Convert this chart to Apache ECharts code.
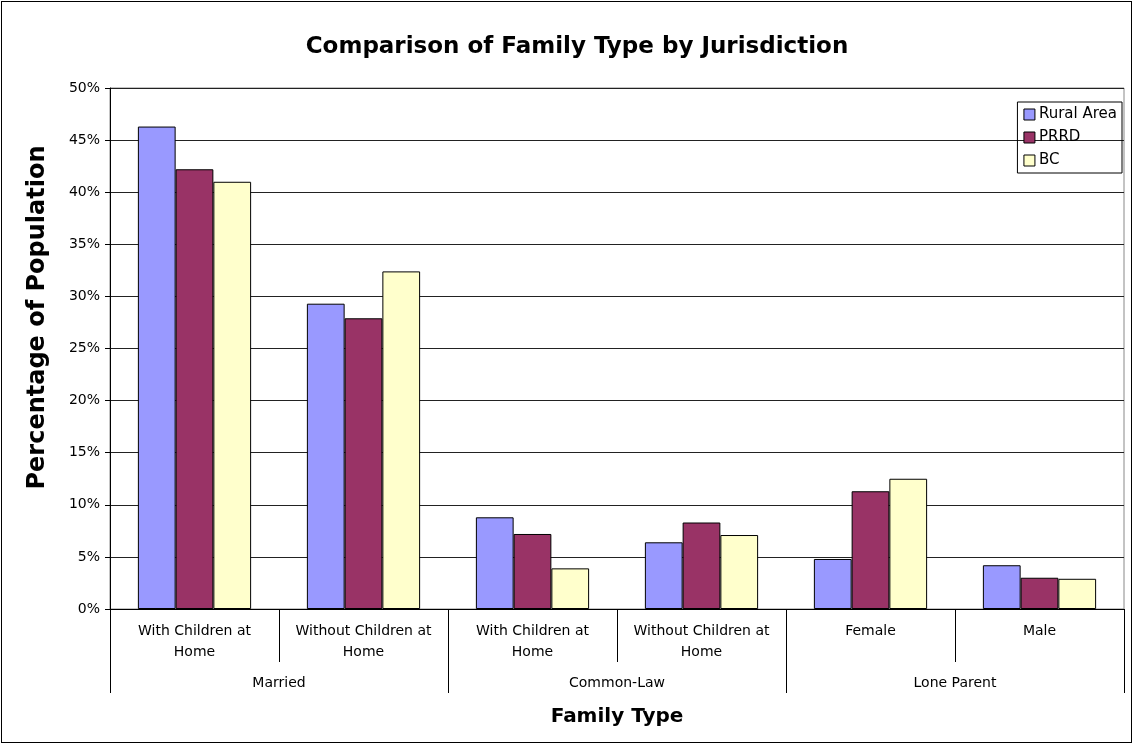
<!DOCTYPE html>
<html>
<head>
<meta charset="utf-8">
<script src="https://cdn.jsdelivr.net/npm/echarts@6/dist/echarts.min.js"></script>
<style>
html,body{margin:0;padding:0;background:#fff;}
#frame{position:absolute;left:1px;top:1px;width:1129px;height:740px;border:1px solid #000;}
#chart{position:absolute;left:0;top:0;width:1133px;height:744px;}
</style>
</head>
<body>
<div id="frame"></div>
<div id="chart"></div>
<script>
const subCategories = ['With Children at\nHome', 'Without Children at\nHome', 'With Children at\nHome', 'Without Children at\nHome', 'Female', 'Male'];
const groupCategories = ['Married', 'Common-Law', 'Lone Parent'];
const seriesNames = ['Rural Area', 'PRRD', 'BC'];
const ruralArea = [46.3, 29.3, 8.8, 6.4, 4.8, 4.2];
const prrd = [42.2, 27.9, 7.2, 8.3, 11.3, 3.0];
const bc = [41.0, 32.4, 3.9, 7.1, 12.5, 2.9];
const colors = ['#9999FF', '#993366', '#FFFFCC'];

const chart = echarts.init(document.getElementById('chart'), null, {renderer: 'canvas'});
const font = '"DejaVu Sans", Arial, sans-serif';
const mkBar = (name, data, color) => ({
  name, type: 'bar', data, xAxisIndex: 0, yAxisIndex: 0,
  barGap: '0%', barCategoryGap: '33%',
  itemStyle: {color, borderColor: '#000', borderWidth: 1},
  emphasis: {disabled: true}, animation: false
});
chart.setOption({
  animation: false,
  backgroundColor: 'transparent',
  title: {
    text: 'Comparison of Family Type by Jurisdiction',
    left: 572, top: 31, textAlign: 'center',
    textStyle: {fontFamily: font, fontSize: 23, fontWeight: 'bold', color: '#000'}
  },
  legend: {
    data: seriesNames, orient: 'vertical', right: 11, top: 102,
    itemWidth: 11, itemHeight: 11, itemGap: 8,
    borderColor: '#000', borderWidth: 1, padding: [5, 5, 5, 6],
    textStyle: {fontFamily: font, fontSize: 15, color: '#000', padding: [0, 0, 0, -1]},
    icon: 'rect', itemStyle: {borderColor: '#000', borderWidth: 1}
  },
  grid: {left: 110, right: 9, top: 88, bottom: 135, show: true, borderColor: '#888', borderWidth: 1},
  xAxis: [
    {
      type: 'category', data: subCategories, position: 'bottom',
      axisLine: {show: true, lineStyle: {color: '#000', width: 1}},
      axisTick: {show: true, interval: 0, length: 53, lineStyle: {color: '#000'}},
      axisLabel: {interval: 0, margin: 12, fontFamily: font, fontSize: 14, lineHeight: 21, color: '#000'}
    },
    {
      type: 'category', data: groupCategories, position: 'bottom',
      axisLine: {show: false},
      axisTick: {show: true, interval: 0, length: 84, lineStyle: {color: '#000'}},
      axisLabel: {interval: 0, margin: 67, fontFamily: font, fontSize: 14, color: '#000'},
      name: 'Family Type', nameLocation: 'middle', nameGap: 98,
      nameTextStyle: {fontFamily: font, fontSize: 20, fontWeight: 'bold', color: '#000'}
    }
  ],
  yAxis: {
    type: 'value', min: 0, max: 50, interval: 5,
    axisLine: {show: true, lineStyle: {color: '#000'}},
    axisTick: {show: true, length: 5, lineStyle: {color: '#000'}},
    axisLabel: {formatter: '{value}%', fontFamily: font, fontSize: 14, color: '#000', margin: 10},
    splitLine: {show: true, lineStyle: {color: '#222', width: 1}},
    name: 'Percentage of Population', nameLocation: 'middle', nameGap: 60,
    nameTextStyle: {fontFamily: font, fontSize: 24, fontWeight: 'bold', color: '#000', padding: [0, 0, 0, 62]}
  },
  series: [
    mkBar(seriesNames[0], ruralArea, colors[0]),
    mkBar(seriesNames[1], prrd, colors[1]),
    mkBar(seriesNames[2], bc, colors[2]),
    {name: 'group', type: 'bar', xAxisIndex: 1, yAxisIndex: 0, data: groupCategories.map(() => null), silent: true}
  ]
});
</script>
</body>
</html>
